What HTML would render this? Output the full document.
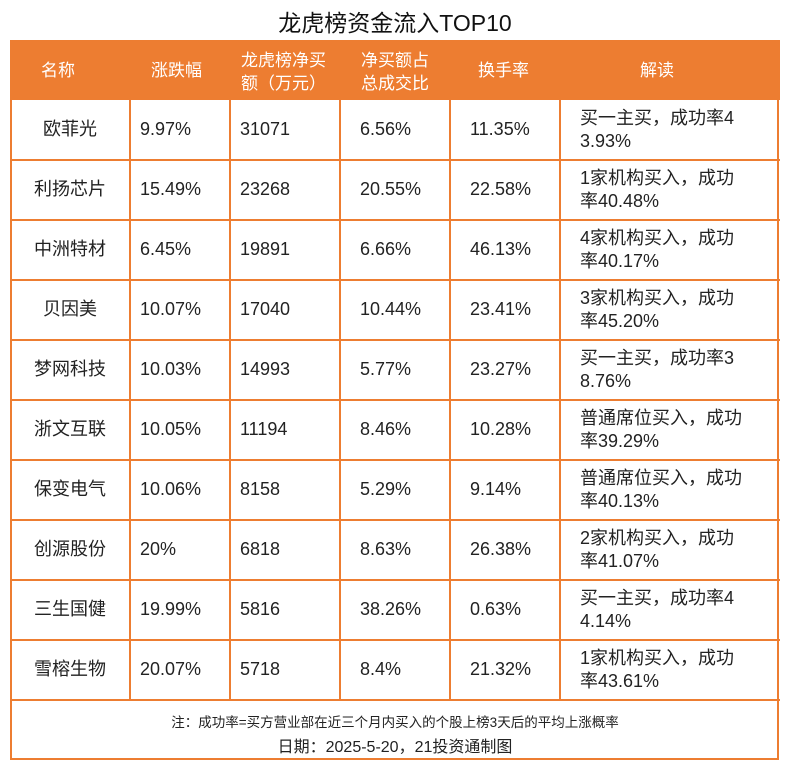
<!DOCTYPE html>
<html><head><meta charset="utf-8"><style>
body{margin:0;width:790px;height:770px;background:#fff;font-family:"Liberation Sans","Noto Sans CJK SC",sans-serif;color:#222;position:relative;overflow:hidden}
.t{position:absolute;white-space:nowrap}
.title{left:0;width:790px;top:4px;text-align:center;font-size:23px;color:#111}
.box{position:absolute;left:10px;top:40px;width:765px;height:716px;border:2.5px solid #ed7d31}
.hdr{position:absolute;left:10px;top:40px;width:770px;height:60px;background:#ed7d31}
.h{color:#fff;font-size:17px;line-height:23px}
.v{position:absolute;background:#ed7d31;width:1.5px;top:100px;height:600px}
.hl{position:absolute;background:#ed7d31;height:1.5px;left:10px;width:770px}
.c{font-size:18px;line-height:23px}
</style></head><body>
<div class="t title">龙虎榜资金流入TOP10</div>
<div class="hdr"></div>
<div class="box"></div>
<div class="v" style="left:129px"></div><div class="v" style="left:229px"></div><div class="v" style="left:339px"></div><div class="v" style="left:449px"></div><div class="v" style="left:559px"></div>
<div class="hl" style="top:159px"></div><div class="hl" style="top:219px"></div><div class="hl" style="top:279px"></div><div class="hl" style="top:339px"></div><div class="hl" style="top:399px"></div><div class="hl" style="top:459px"></div><div class="hl" style="top:519px"></div><div class="hl" style="top:579px"></div><div class="hl" style="top:639px"></div><div class="hl" style="top:699px"></div>
<div class="t h" style="left:41px;top:59px">名称</div>
<div class="t h" style="left:151px;top:59px">涨跌幅</div>
<div class="t h" style="left:241px;top:49px">龙虎榜净买<br>额（万元）</div>
<div class="t h" style="left:361px;top:49px">净买额占<br>总成交比</div>
<div class="t h" style="left:478px;top:59px">换手率</div>
<div class="t h" style="left:640px;top:59px">解读</div>
<div id="rows"></div>
<div class="t" style="left:0;width:790px;text-align:center;top:711px;font-size:13.5px;color:#222">注：成功率=买方营业部在近三个月内买入的个股上榜3天后的平均上涨概率</div>
<div class="t" style="left:0;width:790px;text-align:center;top:733px;font-size:16px;color:#222">日期：2025-5-20，21投资通制图</div>
<script>
var d=[["欧菲光","9.97%","31071","6.56%","11.35%","买一主买，成功率4","3.93%"],
["利扬芯片","15.49%","23268","20.55%","22.58%","1家机构买入，成功","率40.48%"],
["中洲特材","6.45%","19891","6.66%","46.13%","4家机构买入，成功","率40.17%"],
["贝因美","10.07%","17040","10.44%","23.41%","3家机构买入，成功","率45.20%"],
["梦网科技","10.03%","14993","5.77%","23.27%","买一主买，成功率3","8.76%"],
["浙文互联","10.05%","11194","8.46%","10.28%","普通席位买入，成功","率39.29%"],
["保变电气","10.06%","8158","5.29%","9.14%","普通席位买入，成功","率40.13%"],
["创源股份","20%","6818","8.63%","26.38%","2家机构买入，成功","率41.07%"],
["三生国健","19.99%","5816","38.26%","0.63%","买一主买，成功率4","4.14%"],
["雪榕生物","20.07%","5718","8.4%","21.32%","1家机构买入，成功","率43.61%"]];
var h="";d.forEach(function(r,i){var y=100+i*60;
h+='<div class="t c" style="left:10px;width:120px;text-align:center;top:'+(y+18)+'px">'+r[0]+'</div>';
h+='<div class="t c" style="left:140px;top:'+(y+18)+'px">'+r[1]+'</div>';
h+='<div class="t c" style="left:240px;top:'+(y+18)+'px">'+r[2]+'</div>';
h+='<div class="t c" style="left:360px;top:'+(y+18)+'px">'+r[3]+'</div>';
h+='<div class="t c" style="left:470px;top:'+(y+18)+'px">'+r[4]+'</div>';
h+='<div class="t c" style="left:580px;top:'+(y+7)+'px">'+r[5]+'<br>'+r[6]+'</div>';});
document.getElementById("rows").innerHTML=h;
</script>
</body></html>
